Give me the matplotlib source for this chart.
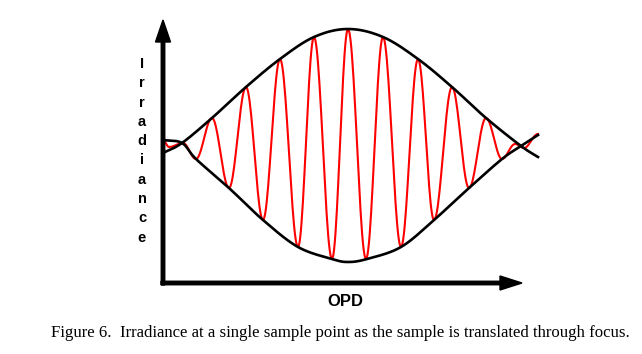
import numpy as np
import matplotlib
matplotlib.use("Agg")
import matplotlib.pyplot as plt

# values (arbitrary units, origin at the axes corner)
# red fringe trace: successive extrema
fringe_opd = [0, 6, 20, 33, 49, 66, 83, 100, 117, 135, 151, 169, 185,
              203, 220, 238, 255, 271, 289, 306, 323, 339, 352, 361, 375]
fringe_irr = [143, 136, 140, 124, 165, 95, 196, 63, 224, 36, 246, 24, 254,
              24, 246, 36, 224, 63, 196, 95, 165, 124, 139, 135, 149]

# black envelopes
upper_opd = [0, 19, 49, 83, 117, 151, 185, 220, 255, 289, 323, 358, 375]
upper_irr = [130, 140, 165, 196, 224, 246, 254, 246, 224, 196, 165, 137, 126]
lower_opd = [0, 19, 33, 66, 100, 135, 169, 185, 204, 238, 271, 306, 339, 358, 375]
lower_irr = [143, 140, 124, 95, 63, 36, 24, 21, 24, 36, 63, 95, 124, 137, 148]

y_label = "Irradiance"
x_label = "OPD"
caption = "Figure 6.  Irradiance at a single sample point as the sample is translated through focus."


def fringe_line(xs, ys, n=24):
    # join extrema with half-cosine segments (zero slope at each extremum)
    t = np.linspace(0, 1, n)
    px, py = [], []
    for i in range(len(xs) - 1):
        s = (1 - np.cos(np.pi * t)) / 2
        px.append(xs[i] + (xs[i + 1] - xs[i]) * t)
        py.append(ys[i] + (ys[i + 1] - ys[i]) * s)
    return np.concatenate(px), np.concatenate(py)


def smooth_line(xs, ys, n=20):
    # catmull-rom through the read points
    p = np.column_stack([xs, ys]).astype(float)
    p = np.vstack([2 * p[0] - p[1], p, 2 * p[-1] - p[-2]])
    t = np.linspace(0, 1, n)[:, None]
    out = []
    for i in range(1, len(p) - 2):
        p0, p1, p2, p3 = p[i - 1], p[i], p[i + 1], p[i + 2]
        seg = 0.5 * ((2 * p1) + (-p0 + p2) * t + (2 * p0 - 5 * p1 + 4 * p2 - p3) * t ** 2
                     + (-p0 + 3 * p1 - 3 * p2 + p3) * t ** 3)
        out.append(seg)
    out = np.vstack(out)
    return out[:, 0], out[:, 1]


fig = plt.figure(figsize=(6.42, 3.54), dpi=100)
ax = fig.add_axes([0, 0, 1, 1])
ax.set_xlim(-163, 479)
ax.set_ylim(-71, 283)
ax.axis("off")

fx, fy = fringe_line(fringe_opd, fringe_irr)
ax.plot(fx, fy, color="#ff0000", lw=1.5, zorder=2)

ux, uy = smooth_line(upper_opd, upper_irr)
lx, ly = smooth_line(lower_opd, lower_irr)
ax.plot(ux, uy, color="black", lw=1.9, zorder=3)
ax.plot(lx, ly, color="black", lw=1.9, zorder=3)

# axes arrows
ax.arrow(0, -2, 0, 265, width=3.5, head_width=15, head_length=22,
         length_includes_head=True, color="black", zorder=4)
ax.arrow(-2, 0, 361, 0, width=3.5, head_width=14, head_length=22,
         length_includes_head=True, color="black", zorder=4)

# stacked vertical label
for i, ch in enumerate(y_label):
    ax.text(-21, 219 - i * 19.3, ch, ha="center", va="center",
            fontsize=10.5, fontweight="bold", family="Liberation Sans")

ax.text(182, -18, x_label, ha="center", va="center", fontsize=12,
        fontweight="bold", family="Liberation Sans")

fig.text(0.53, 1 - 333 / 354, caption, ha="center", va="center",
         fontsize=12.1, family="Liberation Serif")

fig.savefig("out.png", dpi=100)
